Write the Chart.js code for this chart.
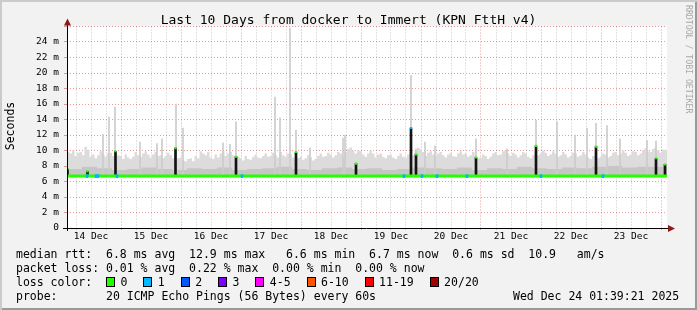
<!DOCTYPE html>
<html>
<head>
<meta charset="utf-8">
<script src="https://cdn.jsdelivr.net/npm/chart.js"></script>
<style>
  html, body { margin: 0; padding: 0; background: #f2f2f2; }
  #wrap {
    position: relative; width: 697px; height: 310px; overflow: hidden;
    background: #f2f2f2;
    box-shadow: inset 2px 2px 0 #cbcbcb, inset -2px -2px 0 #999;
    font-family: 'DejaVu Sans Mono', monospace; color: #000;
  }
  #chart { position: absolute; left: 0; top: 0; }
  .txt { position: absolute; white-space: pre; }
  #title { left: 0; top: 12px; width: 697px; text-align: center; font-size: 13px; line-height: 15px; }
  #ylabel { left: -40px; top: 119px; width: 100px; height: 14px; text-align: center; font-size: 11.5px; line-height: 14px; transform: rotate(-90deg); }
  #credit { left: 684px; top: 5px; writing-mode: vertical-rl; font-size: 8.2px; line-height: 9px; color: #a8a8a8; }
  .leg { left: 16px; font-size: 11.5px; line-height: 14px; }
  .box { display: inline-block; width: 7px; height: 8px; border: 1px solid #000; vertical-align: -1px; margin-right: 5.5px; }
  .item { margin-right: 15.9px; }
</style>
</head>
<body>
<div id="wrap">
  <canvas id="chart" width="697" height="310"></canvas>
  <div class="txt" id="title">Last 10 Days from docker to Immert (KPN FttH v4)</div>
  <div class="txt" id="ylabel">Seconds</div>
  <div class="txt" id="credit">RRDTOOL / TOBI OETIKER</div>
  <div class="txt leg" style="top:247px">median rtt:  6.8 ms avg  12.9 ms max   6.6 ms min  6.7 ms now  0.6 ms sd  10.9   am/s</div>
  <div class="txt leg" style="top:261px">packet loss: 0.01 % avg  0.22 % max  0.00 % min  0.00 % now</div>
  <div class="txt leg" id="losscolor" style="top:275px">loss color:  </div>
  <div class="txt leg" style="top:289px">probe:       20 ICMP Echo Pings (56 Bytes) every 60s</div>
  <div class="txt leg" style="top:289px; left:513px">Wed Dec 24 01:39:21 2025</div>
</div>
<script>
// time axis is in hours since 14 Dec 00:00
const dayLabels = ['14 Dec', '15 Dec', '16 Dec', '17 Dec', '18 Dec', '19 Dec', '20 Dec', '21 Dec', '22 Dec', '23 Dec'];
const startHour = 2.4;
const endHour = 242.4;

// top of the smoke (ms), one value per hour from startHour
const smokeStepHours = 1;
const smokeTop = [
  10.3, 9.8, 9.6, 10.0, 9.3, 9.7, 9.8, 9.4, 10.5, 10.1, 9.2, 9.5, 9.0, 9.4, 9.9, 9.5, 9.2, 9.6, 9.7, 9.3,
  9.0, 9.4, 9.3, 8.9, 9.5, 9.1, 8.9, 9.2, 9.8, 9.4, 9.2, 9.6, 9.9, 9.5, 9.1, 9.5, 9.8, 9.3, 9.4, 9.0,
  9.3, 9.7, 9.4, 9.0, 8.7, 9.0, 9.1, 8.7, 8.6, 8.9, 9.0, 8.6, 9.3, 9.0, 9.9, 9.6, 9.4, 9.8, 9.1, 8.9,
  9.5, 9.1, 9.6, 9.9, 9.3, 9.6, 9.8, 9.4, 8.9, 9.2, 9.0, 8.7, 9.3, 8.9, 8.8, 9.2, 9.5, 9.1, 9.0, 9.3,
  9.6, 9.2, 9.3, 9.7, 9.4, 9.1, 9.8, 9.4, 9.2, 9.6, 9.5, 9.1, 8.8, 9.0, 9.2, 8.8, 9.0, 9.4, 9.1, 8.7,
  8.9, 9.3, 9.6, 9.2, 9.3, 9.7, 9.5, 9.1, 9.4, 9.8, 9.6, 9.2, 9.8, 10.2, 10.4, 10.0, 9.6, 10.0, 9.9, 9.5,
  9.2, 9.6, 10.0, 9.6, 9.1, 9.5, 9.6, 9.2, 9.0, 9.4, 9.5, 9.1, 8.9, 9.3, 9.6, 9.2, 9.1, 9.5, 9.8, 9.4,
  10.0, 10.4, 10.2, 9.8, 9.3, 9.7, 9.9, 9.5, 9.2, 9.6, 9.8, 9.4, 9.1, 9.5, 9.7, 9.3, 9.2, 9.6, 9.9, 9.5,
  9.6, 9.2, 9.4, 9.8, 9.4, 9.0, 9.1, 9.5, 9.3, 8.9, 9.2, 9.6, 9.8, 9.4, 9.5, 9.9, 10.0, 9.6, 9.3, 9.7,
  9.5, 9.1, 9.4, 9.8, 9.6, 9.2, 9.0, 9.4, 9.8, 9.4, 9.6, 10.0, 9.7, 9.3, 9.5, 9.9, 9.6, 9.2, 9.4, 9.8,
  9.5, 9.1, 9.3, 9.7, 9.6, 9.2, 9.4, 9.8, 9.5, 9.1, 8.9, 9.3, 9.4, 9.0, 9.2, 9.6, 9.5, 9.1, 9.3, 9.7,
  9.8, 9.4, 9.6, 10.0, 9.7, 9.3, 9.5, 9.9, 9.8, 9.4, 9.6, 10.0, 10.3, 9.9, 9.8, 10.2, 10.4, 10.0, 9.7, 10.1
];
// denser inner part of the smoke (ms), one value per 6 hours
const bandStepHours = 6;
const smokeBand = [
  7.8, 7.6, 7.9, 7.7, 7.5, 7.6, 7.8, 7.6, 7.5, 7.7,
  7.6, 7.8, 7.5, 7.6, 7.7, 7.9, 7.6, 7.5, 7.7, 7.8,
  7.6, 7.7, 7.5, 7.6, 7.8, 7.7, 7.6, 7.8, 7.5, 7.7,
  7.6, 7.9, 7.7, 7.6, 7.8, 7.7, 7.9, 8.0, 7.8, 7.9
];
const smokeFloor = 6.6;

// single tall pings above the smoke
const spikeHours = [16.8, 19.2, 21.6, 31.6, 38.4, 40.4, 46, 48.8, 64.8, 67.6, 70, 85.6, 87.6, 91.6, 94, 99.6,
  112.8, 113.6, 140, 142, 145.6, 149.6, 166, 178.4, 190, 198.4, 205.6, 210.4, 214, 218.4, 223.6, 234.4, 238];
const spikeTop = [12.1, 14.3, 15.6, 11.1, 10.9, 11.5, 16.0, 12.9, 11.0, 10.8, 13.7, 16.9, 14.2, 25.8, 12.6, 10.3,
  11.6, 12.0, 19.7, 10.2, 11.1, 10.6, 11.5, 10.2, 13.9, 13.7, 12.0, 12.9, 13.5, 13.2, 11.5, 11.3, 11.2];

// median rtt (ms)
const medianHours = [2.4, 242.4];
const medianRtt = [6.7, 6.7];
// median jumps: hour, median value, lost pings
const jumpHours = [2.6, 10.6, 21.8, 45.8, 70, 94, 118, 140, 142, 166, 190, 214, 238, 241.6];
const jumpTop = [7.6, 7.3, 9.9, 10.3, 9.2, 9.8, 8.3, 12.9, 9.5, 9.1, 10.6, 10.5, 9.0, 8.2];
const jumpLoss = [0, 0, 0, 0, 0, 0, 0, 1, 0, 0, 0, 0, 0, 0];

// intervals with packet loss on the median line
const lossHours = [10.4, 14, 14.8, 22.4, 72.4, 137.2, 144.4, 150.4, 162.4, 192, 216.8];
const lossCount = [1, 1, 1, 1, 1, 1, 1, 1, 1, 1, 1];

const lossLabels = ['0', '1', '2', '3', '4-5', '6-10', '11-19', '20/20'];
const lossColors = ['#26ff00', '#00b8ff', '#0059ff', '#7e00ff', '#ff00ff', '#ff5500', '#ff0000', '#a10000'];

function lossColor(n) {
  if (n <= 3) return lossColors[n];
  if (n <= 5) return lossColors[4];
  if (n <= 10) return lossColors[5];
  if (n <= 19) return lossColors[6];
  return lossColors[7];
}

// legend boxes
const lossEl = document.getElementById('losscolor');
lossLabels.forEach((label, i) => {
  const item = document.createElement('span');
  item.className = 'item';
  const box = document.createElement('span');
  box.className = 'box';
  box.style.background = lossColors[i];
  item.appendChild(box);
  item.appendChild(document.createTextNode(label));
  lossEl.appendChild(item);
});

// step series helper: one point per bin start plus the closing point
function stepPoints(values, step) {
  const pts = values.map((v, i) => ({ x: startHour + i * step, y: v }));
  pts.push({ x: endHour, y: values[values.length - 1] });
  return pts;
}

const tickHours = [];
for (let h = 6; h <= 240; h += 6) tickHours.push(h);

const mono = 'DejaVu Sans Mono';
const majorGrid = 'rgba(205, 60, 60, 0.5)';
const minorGrid = 'rgba(150, 150, 150, 0.55)';

const frame = {
  id: 'frame',
  beforeDraw(chart) {
    const { ctx, chartArea: a } = chart;
    ctx.save();
    ctx.fillStyle = '#ffffff';
    ctx.fillRect(a.left, a.top, a.right - a.left, a.bottom - a.top);
    ctx.restore();
  },
  afterDraw(chart) {
    const { ctx, chartArea: a } = chart;
    ctx.save();
    ctx.strokeStyle = '#000';
    ctx.lineWidth = 1;
    ctx.beginPath();
    ctx.moveTo(a.left - 4, a.bottom + 0.5);
    ctx.lineTo(a.right + 3, a.bottom + 0.5);
    ctx.moveTo(a.left + 0.5, a.bottom + 3);
    ctx.lineTo(a.left + 0.5, a.top - 4);
    ctx.stroke();
    ctx.fillStyle = '#8b1a1a';
    ctx.beginPath();
    ctx.moveTo(a.left + 0.5, a.top - 8);
    ctx.lineTo(a.left - 3, a.top - 1);
    ctx.lineTo(a.left + 4, a.top - 1);
    ctx.closePath();
    ctx.fill();
    ctx.beginPath();
    ctx.moveTo(a.right + 8, a.bottom + 0.5);
    ctx.lineTo(a.right + 1, a.bottom - 3);
    ctx.lineTo(a.right + 1, a.bottom + 4);
    ctx.closePath();
    ctx.fill();
    ctx.restore();
  }
};

new Chart(document.getElementById('chart'), {
  type: 'line',
  data: {
    datasets: [
      {
        type: 'line',
        data: stepPoints(smokeTop, smokeStepHours),
        stepped: 'after',
        fill: { value: smokeFloor },
        backgroundColor: '#dcdcdc',
        borderWidth: 0,
        pointRadius: 0,
        order: 10
      },
      {
        type: 'line',
        data: stepPoints(smokeBand, bandStepHours),
        stepped: 'after',
        fill: { value: smokeFloor },
        backgroundColor: '#c6c6c6',
        borderWidth: 0,
        pointRadius: 0,
        order: 9
      },
      {
        type: 'bar',
        data: spikeHours.map((h, i) => ({ x: h, y: [smokeFloor, spikeTop[i]] })),
        backgroundColor: '#cccccc',
        barThickness: 1,
        grouped: false,
        order: 8
      },
      {
        type: 'bar',
        data: jumpHours.map((h, i) => ({ x: h, y: [medianRtt[0], jumpTop[i]] })),
        backgroundColor: '#141414',
        barThickness: 2,
        grouped: false,
        order: 7
      },
      {
        type: 'line',
        data: medianHours.map((h, i) => ({ x: h, y: medianRtt[i] })),
        borderColor: lossColors[0],
        borderWidth: 3,
        pointRadius: 0,
        fill: false,
        order: 6
      },
      {
        type: 'bar',
        data: lossHours.map(h => ({ x: h, y: [6.5, 6.9] })),
        backgroundColor: lossCount.map(lossColor),
        barThickness: 2,
        grouped: false,
        order: 5
      },
      {
        type: 'line',
        data: jumpHours.map((h, i) => ({ x: h, y: jumpTop[i] })),
        showLine: false,
        pointStyle: 'rect',
        pointRadius: 1.5,
        pointBorderWidth: 0,
        pointBackgroundColor: jumpLoss.map(lossColor),
        order: 4
      }
    ]
  },
  options: {
    responsive: false,
    animation: false,
    layout: { padding: { left: 0, top: 26.5, right: 30, bottom: 0 } },
    plugins: { legend: { display: false }, tooltip: { enabled: false } },
    scales: {
      x: {
        type: 'linear',
        min: startHour,
        max: endHour,
        offset: false,
        afterBuildTicks: scale => { scale.ticks = tickHours.map(v => ({ value: v })); },
        afterFit: scale => { scale.height = 82; },
        grid: {
          offset: false,
          tickLength: 2,
          color: ctx => (ctx.tick && ctx.tick.value % 24 === 0 ? majorGrid : minorGrid)
        },
        border: { display: false, dash: [1, 2] },
        ticks: {
          autoSkip: false,
          maxRotation: 0,
          padding: 1,
          color: '#000',
          font: { family: mono, size: 9.5 },
          callback: v => (v % 24 === 12 ? dayLabels[(v - 12) / 24] : '')
        }
      },
      y: {
        min: 0,
        max: 26,
        afterFit: scale => { scale.width = 67; },
        grid: {
          tickLength: 3,
          color: ctx => (ctx.tick && ctx.tick.value % 2 === 0 ? majorGrid : minorGrid)
        },
        border: { display: false, dash: [1, 2] },
        ticks: {
          stepSize: 1,
          padding: 5,
          color: '#000',
          font: { family: mono, size: 9.5 },
          callback: v => (v % 2 === 0 && v <= 24 ? (v === 0 ? '0' : v + ' m') : '')
        }
      }
    }
  },
  plugins: [frame]
});
</script>
</body>
</html>
